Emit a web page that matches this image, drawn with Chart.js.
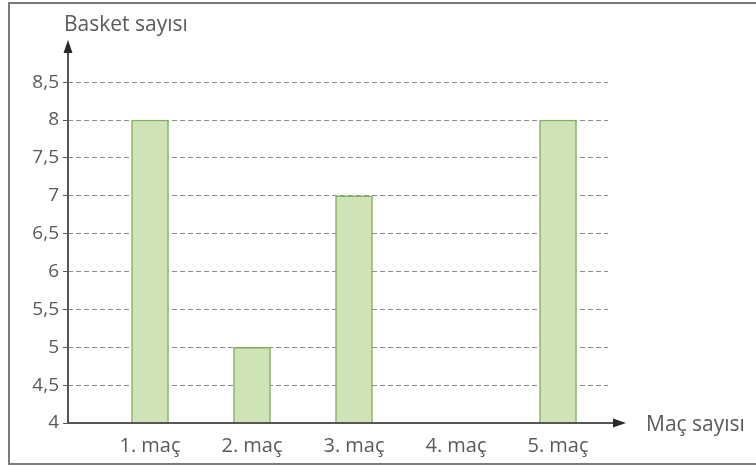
<!DOCTYPE html>
<html>
<head>
<meta charset="utf-8">
<script src="https://cdn.jsdelivr.net/npm/chart.js@4"></script>
<style>
  html, body { margin: 0; padding: 0; background: #fff; }
  #wrap { width: 756px; height: 468px; }
</style>
</head>
<body>
<div id="wrap"><canvas id="chart" width="756" height="468"></canvas></div>
<script>
const categories = ['1. maç', '2. maç', '3. maç', '4. maç', '5. maç'];
const basketCounts = [8, 5, 7, 4, 8];
const yTickValues = [4, 4.5, 5, 5.5, 6, 6.5, 7, 7.5, 8, 8.5];
const yTickLabels = ['4', '4,5', '5', '5,5', '6', '6,5', '7', '7,5', '8', '8,5'];
const yTitle = 'Basket sayısı';
const xTitle = 'Maç sayısı';

const textColor = '#5a5a5a';
const axisColor = '#555555';
const font = 'Open Sans';

// frame (right side runs off the picture), axes with arrows, axis titles
const decor = {
  id: 'decor',
  afterDraw(chart) {
    const ctx = chart.ctx;
    const a = chart.chartArea;
    ctx.save();
    ctx.strokeStyle = '#7a7a7a';
    ctx.lineWidth = 2;
    ctx.strokeRect(9, 3, 780, 461);

    ctx.strokeStyle = axisColor;
    ctx.lineWidth = 2;
    ctx.beginPath();
    ctx.moveTo(a.left, a.bottom);
    ctx.lineTo(a.left, a.top + 8);
    ctx.moveTo(a.left - 1, a.bottom);
    ctx.lineTo(a.right + 10, a.bottom);
    ctx.stroke();
    ctx.fillStyle = '#2a2a2a';
    // y arrow
    ctx.beginPath();
    ctx.moveTo(a.left, a.top - 2);
    ctx.lineTo(a.left - 4.5, a.top + 11);
    ctx.lineTo(a.left + 4.5, a.top + 11);
    ctx.closePath();
    ctx.fill();
    // x arrow
    ctx.beginPath();
    ctx.moveTo(a.right + 18, a.bottom);
    ctx.lineTo(a.right + 5, a.bottom - 4.5);
    ctx.lineTo(a.right + 5, a.bottom + 4.5);
    ctx.closePath();
    ctx.fill();

    ctx.fillStyle = textColor;
    ctx.font = '21px "' + font + '"';
    ctx.textBaseline = 'alphabetic';
    ctx.textAlign = 'left';
    ctx.fillText(yTitle, 64, 31);
    ctx.textBaseline = 'middle';
    ctx.fillText(xTitle, 646, a.bottom + 2);
    ctx.restore();
  }
};

new Chart(document.getElementById('chart'), {
  type: 'bar',
  data: {
    datasets: [{
      data: categories.map((c, i) => ({ x: i + 1, y: basketCounts[i] })),
      backgroundColor: '#cfe4b6',
      borderColor: '#82ae62',
      borderWidth: 1.5,
      barThickness: 37
    }]
  },
  options: {
    responsive: false,
    animation: false,
    layout: { padding: { top: 42, right: 148, left: 0, bottom: 0 } },
    plugins: { legend: { display: false }, tooltip: { enabled: false } },
    scales: {
      x: {
        type: 'linear',
        offset: false,
        min: 0.196,
        max: 5.49,
        afterBuildTicks: (scale) => { scale.ticks = categories.map((c, i) => ({ value: i + 1 })); },
        afterFit: (scale) => { scale.height = 45; },
        grid: { display: false },
        border: { display: false },
        ticks: {
          autoSkip: false,
          maxRotation: 0,
          padding: 3,
          color: textColor,
          font: { family: font, size: 20 },
          callback: (v) => categories[Math.round(v) - 1]
        }
      },
      y: {
        min: 4,
        max: 9.03,
        afterBuildTicks: (scale) => { scale.ticks = yTickValues.map(v => ({ value: v })); },
        afterFit: (scale) => { scale.width = 68; },
        border: { display: false, dash: [5, 3] },
        grid: {
          color: (c) => c.tick && c.tick.value === 4 ? 'rgba(0,0,0,0)' : '#8c8c8c',
          lineWidth: 1,
          tickLength: 5,
          tickColor: axisColor,
          tickBorderDash: []
        },
        ticks: {
          padding: 4,
          color: textColor,
          font: { family: font, size: 19 },
          callback: (v) => yTickLabels[yTickValues.indexOf(v)]
        }
      }
    }
  },
  plugins: [decor]
});
</script>
</body>
</html>
